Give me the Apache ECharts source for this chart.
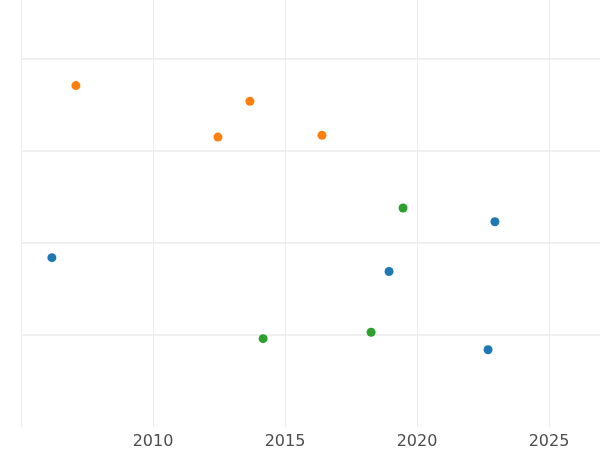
<!DOCTYPE html>
<html>
<head>
<meta charset="utf-8">
<script src="https://cdn.jsdelivr.net/npm/echarts@6/dist/echarts.min.js"></script>
<style>html,body{margin:0;padding:0;background:#fff}#chart{width:600px;height:450px}</style>
</head>
<body>
<div id="chart"></div>
<script>
// Values
const blueX = [2006.17, 2018.94, 2022.95, 2022.69];
const blueY = [1.84, 1.69, 2.23, 0.84];
const orangeX = [2007.08, 2012.46, 2013.67, 2016.40];
const orangeY = [3.71, 3.15, 3.54, 3.17];
const greenX = [2019.47, 2014.17, 2018.26];
const greenY = [2.38, 0.96, 1.03];

const pairs = (xs, ys) => xs.map((x, i) => [x, ys[i]]);
const gridColor = '#ebebeb';

const chart = echarts.init(document.getElementById('chart'));
chart.setOption({
    animation: false,
    grid: { left: 21, right: 0, top: 0, bottom: 23 },
    xAxis: {
        type: 'value',
        min: 2005,
        max: 2026.93,
        interval: 5,
        axisLine: { show: false },
        axisTick: { show: false },
        axisLabel: {
            showMinLabel: false,
            showMaxLabel: false,
            formatter: v => String(v),
            color: '#4d4d4d',
            fontSize: 16,
            margin: 7,
            fontFamily: 'DejaVu Sans'
        },
        splitLine: { show: true, lineStyle: { color: gridColor, width: 1 } }
    },
    yAxis: {
        type: 'value',
        min: 0,
        max: 4.64,
        interval: 1,
        axisLine: { show: false },
        axisTick: { show: false },
        axisLabel: { show: false },
        splitLine: { show: true, showMinLine: false, showMaxLine: false, lineStyle: { color: gridColor, width: 1.5 } }
    },
    series: [
        { type: 'scatter', data: pairs(blueX, blueY), symbolSize: 9, itemStyle: { color: '#1f77b4', opacity: 1 } },
        { type: 'scatter', data: pairs(orangeX, orangeY), symbolSize: 9, itemStyle: { color: '#ff7f0e', opacity: 1 } },
        { type: 'scatter', data: pairs(greenX, greenY), symbolSize: 9, itemStyle: { color: '#2ca02c', opacity: 1 } }
    ]
});
</script>
</body>
</html>
